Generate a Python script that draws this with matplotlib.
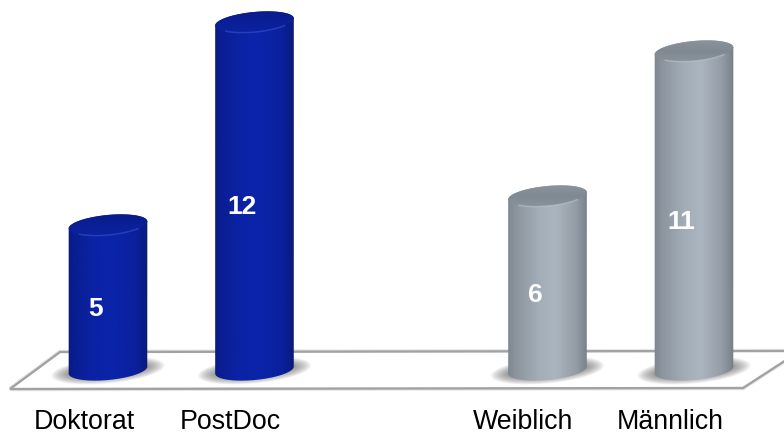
import numpy as np
import matplotlib
matplotlib.use("Agg")
import matplotlib.pyplot as plt
from matplotlib.colors import LinearSegmentedColormap
from matplotlib.patches import Polygon, PathPatch
from matplotlib.path import Path

categories = ["Doktorat", "PostDoc", "Weiblich", "Männlich"]
slots = [0, 1, 3, 4]
values = [5, 12, 6, 11]
groups = ["blue", "blue", "grey", "grey"]

plt.rcParams['font.family'] = ['Liberation Sans', 'DejaVu Sans']

W, H = 784, 435
X0, DX, Y0, DY = 108.0, 146.5, 371.0, 29.0
fig = plt.figure(figsize=(W / 100, H / 100), dpi=100, facecolor="white")
ax = fig.add_axes([0, 0, 1, 1])
ax.axis("off")


def sx(px):
    return np.asarray(px, float) / DX


def sy(py):
    return -np.asarray(py, float) / DY


def ell(cx, cy, a, b, t0=0.0, t1=2 * np.pi, n=80, tilt=np.radians(-5.5)):
    """tilted ellipse outline around a data point, sizes in pixels"""
    t = np.linspace(t0, t1, n)
    ex, ey = a * np.cos(t), b * np.sin(t)
    px = ex * np.cos(tilt) - ey * np.sin(tilt)
    py = ex * np.sin(tilt) + ey * np.cos(tilt)
    return np.column_stack([cx + sx(px), cy + sy(py)])


cmaps = {
    "blue": LinearSegmentedColormap.from_list("b", [
        (0, "#0a1a78"), (0.06, "#0a1d90"), (0.3, "#0a22a4"), (0.55, "#0a24aa"),
        (0.85, "#0a209c"), (0.96, "#0a1b80"), (1, "#0c1a68")]),
    "grey": LinearSegmentedColormap.from_list("g", [
        (0, "#7c858d"), (0.1, "#8b949d"), (0.4, "#a4aeb8"), (0.6, "#abb5bf"),
        (0.85, "#949da6"), (0.96, "#7f8891"), (1, "#737b84")]),
}
cap_cmaps = {
    "blue": LinearSegmentedColormap.from_list("bc", ["#0a1c8a", "#0a1f98", "#0a22a0"]),
    "grey": LinearSegmentedColormap.from_list("gc", ["#8b949b", "#7f8991", "#8a949c"]),
}
rim = {"blue": "#3a58c8", "grey": "#c0c8cf"}

floor_px = [(10, 390), (60, 353), (800, 352), (743, 389)]
floor = [((x - X0) / DX, (Y0 - y) / DY) for x, y in floor_px]
ax.add_patch(Polygon(floor, closed=True, fc="none", ec="#a9a9a9", lw=3.2, alpha=0.3,
                     joinstyle="miter", zorder=1))
ax.add_patch(Polygon(floor, closed=True, fc="white", ec="#a2a2a2", lw=1.7,
                     joinstyle="miter", zorder=1))

A, B = 39.5, 10.0
grad = np.linspace(0, 1, 256)[None, :]
for slot, v, g in zip(slots, values, groups):
    for k in np.linspace(1, 0, 16):
        pts = ell(slot, sy(0.5), 40 + 17 * k, 6 + 7 * k)
        ax.add_patch(Polygon(pts, closed=True, fc="#666666", ec="none",
                             alpha=0.055, zorder=2))
    outline = np.vstack([ell(slot, v, A, B, np.pi, 2 * np.pi),
                         ell(slot, 0, A, B, 0, np.pi)])
    clip = PathPatch(Path(np.vstack([outline, outline[:1]])), transform=ax.transData,
                     fc="none", ec="none")
    ax.add_patch(clip)
    x_l, x_r = slot - sx(A + 1), slot + sx(A + 1)
    im = ax.imshow(grad, cmap=cmaps[g], aspect="auto", zorder=3,
                   extent=[x_l, x_r, -1, v + 1], interpolation="bilinear")
    im.set_clip_path(clip)
    cap = ell(slot, v, A, B)
    cap_clip = PathPatch(Path(np.vstack([cap, cap[:1]])), transform=ax.transData,
                         fc="none", ec="none")
    ax.add_patch(cap_clip)
    im2 = ax.imshow(np.linspace(0, 1, 64)[:, None], cmap=cap_cmaps[g], aspect="auto",
                    zorder=4, extent=[x_l, x_r, v + sy(11), v + sy(-11)],
                    interpolation="bilinear")
    im2.set_clip_path(cap_clip)
    arc = ell(slot, v, A * 0.97, B, 0.22 * np.pi, 0.78 * np.pi)
    ax.plot(arc[:, 0], arc[:, 1], color=rim[g], lw=1.1, alpha=0.55, zorder=5,
            solid_capstyle="round")
    ax.text(slot + sx(-12.5), v / 2 + sy(10.5), str(v), color="white", fontsize=19,
            fontweight="bold", ha="center", va="center", zorder=6)

ax.set_xlim((0 - X0) / DX, (W - X0) / DX)
ax.set_ylim((Y0 - H) / DY, Y0 / DY)

for slot, name in zip(slots, categories):
    ax.text(slot + sx(-24), sy(51.5), name, color="black", fontsize=19.3,
            ha="center", va="center", zorder=6)

fig.savefig("out.png", dpi=100, facecolor="white")
